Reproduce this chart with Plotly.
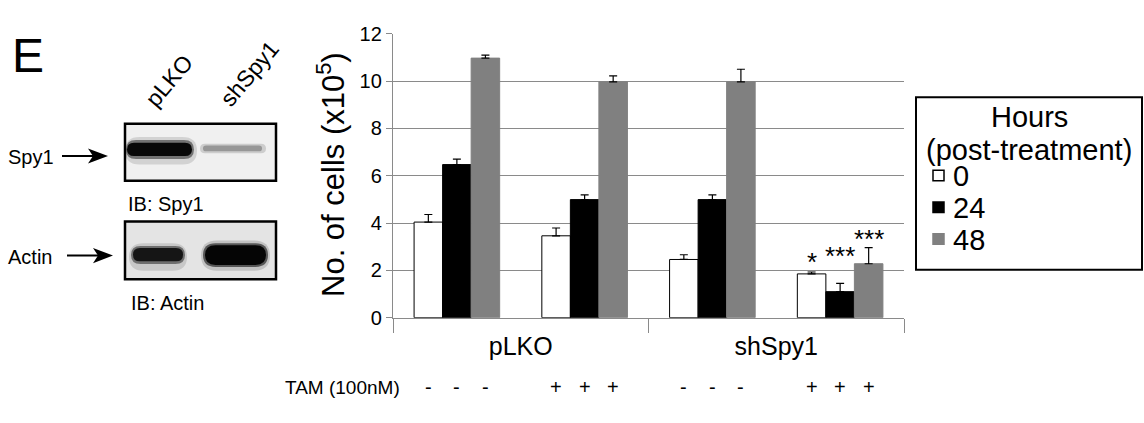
import plotly.graph_objects as go

# ---------------- data ----------------
groups = ["pLKO", "shSpy1"]
tam = ["-", "+", "-", "+"]            # TAM (100nM) per cluster
hours = ["0", "24", "48"]
cells_0h = [4.04, 3.46, 2.46, 1.85]
cells_24h = [6.47, 4.99, 4.99, 1.10]
cells_48h = [10.97, 9.97, 9.97, 2.28]
err_0h = [0.32, 0.33, 0.20, 0.08]
err_24h = [0.23, 0.20, 0.20, 0.35]
err_48h = [0.13, 0.25, 0.53, 0.68]
sig_labels = ["*", "***", "***"]       # last cluster (shSpy1 + TAM)
sig_y = [2.62, 2.84, 3.59]
y_ticks = [0, 2, 4, 6, 8, 10, 12]

# ---------------- styling ----------------
W, H = 1144, 423
FONT = "Liberation Sans, Arial, sans-serif"
fill_colors = ["white", "black", "#808080"]
line_colors = ["black", "black", "#808080"]
BARGAP = 0.33
bw = (1 - BARGAP) / len(hours)


def px(x):
    return x / W


def py(y):
    return 1 - y / H


def txt(text, x, y, size, xanchor="center", yanchor="middle", angle=0):
    return dict(x=px(x), y=py(y), xref="paper", yref="paper", text=text, textangle=angle,
                showarrow=False, font=dict(family=FONT, size=size, color="black"),
                xanchor=xanchor, yanchor=yanchor)


values = [cells_0h, cells_24h, cells_48h]
errors = [err_0h, err_24h, err_48h]
x_clusters = [i + 0.5 for i in range(len(tam))]

fig = go.Figure()
for k, h in enumerate(hours):
    fig.add_trace(go.Bar(
        x=x_clusters, y=values[k], name=h, showlegend=False,
        marker=dict(color=fill_colors[k], line=dict(color=line_colors[k], width=1)),
        error_y=dict(type="data", symmetric=False, array=errors[k],
                     arrayminus=[0] * len(tam), color="black", thickness=1.2, width=4),
    ))

annotations = []
shapes = []

# y-axis title
annotations.append(txt("No. of cells (x10<sup>5</sup>)", 331, 173, 31, angle=-90))

# significance stars
last = len(tam) - 1
for k, s in enumerate(sig_labels):
    annotations.append(dict(x=x_clusters[last] + (k - 1) * bw, y=sig_y[k], xref="x", yref="y",
                            text=s, showarrow=False,
                            font=dict(family=FONT, size=26, color="black"),
                            xanchor="center", yanchor="middle", yshift=-6))

# TAM row
annotations.append(txt("TAM (100nM)", 402, 397, 19, xanchor="right"))
for i, t in enumerate(tam):
    for k in range(len(hours)):
        annotations.append(dict(x=x_clusters[i] + (k - 1) * bw, y=py(397), xref="x", yref="paper",
                                text=t, showarrow=False,
                                font=dict(family=FONT, size=20, color="black"),
                                xanchor="center", yanchor="middle"))

# manual legend
shapes.append(dict(type="rect", xref="paper", yref="paper",
                   x0=px(916), x1=px(1142), y0=py(91), y1=py(273),
                   line=dict(color="black", width=2), fillcolor="white"))
annotations.append(txt("Hours", 1029, 112, 29))
annotations.append(txt("(post-treatment)", 1029, 147, 29))
for k, h in enumerate(hours):
    yc = 173.5 + k * 33.5
    shapes.append(dict(type="rect", xref="paper", yref="paper",
                       x0=px(933), x1=px(944), y0=py(yc - 5.5), y1=py(yc + 5.5),
                       fillcolor=fill_colors[k], line=dict(color=line_colors[k], width=1.5)))
    annotations.append(txt(h, 951, yc + 1, 29, xanchor="left"))

# ---------------- western blot panel ----------------
annotations.append(txt("E", 10, 47, 48, xanchor="left"))
annotations.append(txt("pLKO", 169, 74, 23, angle=-50))
annotations.append(txt("shSpy1", 249, 66, 23, angle=-50))
for t, x, y in [("Spy1", 6, 154), ("Actin", 6, 259), ("IB: Spy1", 126, 204), ("IB: Actin", 129, 308)]:
    annotations.append(txt(t, x, y, 20, xanchor="left"))


def blob(x0, x1, y0, y1, color, opacity):
    ym = (y0 + y1) / 2
    r = min((y1 - y0) / 2, (x1 - x0) / 4)
    P = lambda x, y: f"{px(x):.5f},{py(y):.5f}"
    path = (f"M {P(x0 + r, y0)} L {P(x1 - r, y0)} Q {P(x1, y0)} {P(x1, ym)} "
            f"Q {P(x1, y1)} {P(x1 - r, y1)} L {P(x0 + r, y1)} Q {P(x0, y1)} {P(x0, ym)} "
            f"Q {P(x0, y0)} {P(x0 + r, y0)} Z")
    return dict(type="path", xref="paper", yref="paper", path=path,
                fillcolor=color, opacity=opacity, line=dict(width=0))


# blot backgrounds
shapes.append(dict(type="rect", xref="paper", yref="paper", x0=px(125), x1=px(276),
                   y0=py(119), y1=py(179), fillcolor="#f0f0f0", line=dict(width=0)))
shapes.append(dict(type="rect", xref="paper", yref="paper", x0=px(125), x1=px(276),
                   y0=py(222), y1=py(283), fillcolor="#e4e4e4", line=dict(width=0)))
# Spy1 bands
shapes.append(blob(125, 197, 133, 162, "#000000", 0.12))
shapes.append(blob(126, 194, 136, 156, "#000000", 0.45))
shapes.append(blob(127, 192, 139, 153, "#080808", 1.0))
shapes.append(blob(200, 266, 140, 150, "#999999", 0.4))
shapes.append(blob(203, 262, 142, 148, "#8a8a8a", 0.8))
# Actin bands
shapes.append(blob(129, 187, 245, 274, "#000000", 0.12))
shapes.append(blob(131, 185, 248, 267, "#000000", 0.45))
shapes.append(blob(133, 183, 250, 264, "#151515", 1.0))
shapes.append(blob(201, 270, 242, 274, "#000000", 0.15))
shapes.append(blob(203, 268, 245, 270, "#000000", 0.55))
shapes.append(blob(205, 266, 247, 268, "#050505", 1.0))
# blot borders
for y0, y1 in [(119, 179), (222, 283)]:
    shapes.append(dict(type="rect", xref="paper", yref="paper", x0=px(125), x1=px(276),
                       y0=py(y0), y1=py(y1), line=dict(color="black", width=2.5)))
# arrows
for x_start, x_tip, y in [(62, 108, 153), (67, 113, 258)]:
    shapes.append(dict(type="line", xref="paper", yref="paper", x0=px(x_start), x1=px(x_tip - 12),
                       y0=py(y), y1=py(y), line=dict(color="black", width=2)))
    P = lambda x, yy: f"{px(x):.5f},{py(yy):.5f}"
    shapes.append(dict(type="path", xref="paper", yref="paper",
                       path=f"M {P(x_tip - 20, y - 8)} L {P(x_tip, y)} L {P(x_tip - 20, y + 8)} "
                            f"L {P(x_tip - 15, y)} Z",
                       fillcolor="black", line=dict(width=0)))

fig.update_layout(
    width=W, height=H,
    margin=dict(l=0, r=0, t=0, b=0, pad=0),
    paper_bgcolor="white", plot_bgcolor="white",
    font=dict(family=FONT, color="black"),
    barmode="group", bargap=BARGAP, bargroupgap=0,
    showlegend=False,
    xaxis=dict(domain=[px(393), px(904)], range=[0, len(tam)],
               tickmode="array", tickvals=[2 * i + 1 for i in range(len(groups))], ticktext=groups,
               ticks="outside", ticklen=14, tickcolor="rgba(0,0,0,0)", ticklabelstandoff=-8,
               tickfont=dict(family=FONT, size=25, color="black"),
               showline=True, linecolor="#8a8a8a", linewidth=1.3,
               showgrid=False, zeroline=False,
               minor=dict(tickvals=[0, 2, 4], ticks="outside", ticklen=14,
                          tickcolor="#8a8a8a", tickwidth=1.3, showgrid=False)),
    yaxis=dict(domain=[py(323.5), py(24)], range=[0, 12],
               tickmode="array", tickvals=y_ticks,
               ticks="outside", ticklen=6, tickcolor="#8a8a8a", tickwidth=1.3,
               tickfont=dict(family=FONT, size=20, color="black"),
               showline=True, linecolor="#8a8a8a", linewidth=1.3,
               showgrid=True, gridcolor="#8a8a8a", gridwidth=1.3, zeroline=False),
    annotations=annotations,
    shapes=shapes,
)

# remove the browser's default page margin so the figure fills the window exactly
fig.write_html("out.html", config={"displayModeBar": False},
               post_script="document.body.style.margin='0';document.body.style.padding='0';")
